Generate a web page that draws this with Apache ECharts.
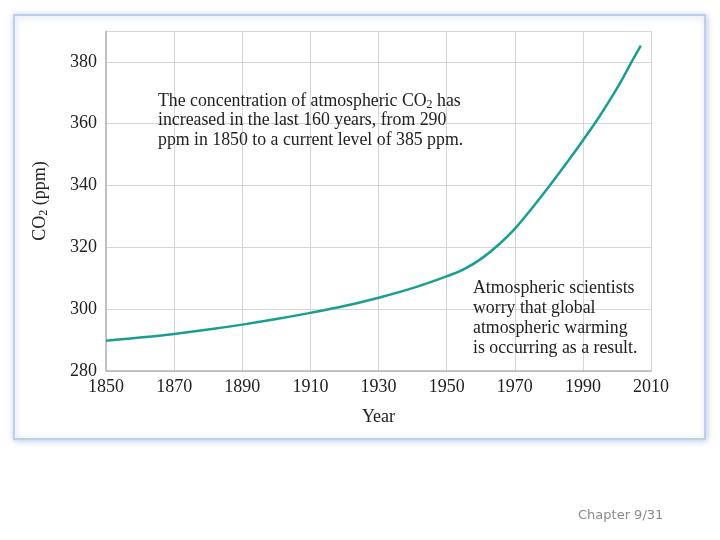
<!DOCTYPE html>
<html>
<head>
<meta charset="utf-8">
<script src="https://cdn.jsdelivr.net/npm/echarts@6/dist/echarts.min.js"></script>
<style>
html,body{margin:0;padding:0;background:#fff;}
#main{width:720px;height:540px;}
</style>
</head>
<body>
<div id="main"></div>
<script>
var years = [1850,1860,1870,1880,1890,1900,1910,1920,1930,1940,1950,1955,1960,1965,1970,1975,1980,1985,1990,1995,2000,2005,2007];
var co2   = [289.8,290.8,292.0,293.4,295.0,296.8,298.8,301.0,303.7,306.8,310.6,312.9,316.2,320.6,326.0,332.6,339.6,347.0,354.6,362.6,371.4,381.4,385.3];
var yTicks = [280,300,320,340,360,380];
var xTicks = [1850,1870,1890,1910,1930,1950,1970,1990,2010];
var note1 = ['The concentration of atmospheric CO{s|2} has','increased in the last 160 years, from 290','ppm in 1850 to a current level of 385 ppm.'];
var note2 = ['Atmospheric scientists','worry that global','atmospheric warming','is occurring as a result.'];
var yName = 'CO{s|2} (ppm)';
var xName = 'Year';
var footer = 'Chapter 9/31';

var serif = '"Liberation Serif", "DejaVu Serif", serif';
var chart = echarts.init(document.getElementById('main'), null, {renderer:'canvas'});
var data = years.map(function(y,i){return [y, co2[i]];});
chart.setOption({
  backgroundColor:'#fff',
  animation:false,
  grid:{left:106,right:69,top:31,bottom:169},
  xAxis:{
    type:'value', min:1850, max:2010, interval:20,
    axisLine:{show:true,lineStyle:{color:'#b4b4b4',width:1.5}},
    axisTick:{show:false},
    splitLine:{show:true,lineStyle:{color:'#d6d6d6',width:1}},
    axisLabel:{color:'#222',fontFamily:serif,fontSize:18,margin:7,
      formatter:function(v){return xTicks.indexOf(v)>=0?String(v):'';}},
    name:xName, nameLocation:'middle', nameGap:37,
    nameTextStyle:{color:'#222',fontFamily:serif,fontSize:18}
  },
  yAxis:{
    type:'value', min:280, max:390, interval:20,
    axisLine:{show:true,lineStyle:{color:'#b4b4b4',width:1.5}},
    axisTick:{show:false},
    splitLine:{show:true,lineStyle:{color:'#d6d6d6',width:1}},
    axisLabel:{color:'#222',fontFamily:serif,fontSize:18,margin:9,
      formatter:function(v){return yTicks.indexOf(v)>=0?String(v):'';}},
    name:yName, nameLocation:'middle', nameGap:56, nameRotate:90,
    nameTextStyle:{color:'#222',fontFamily:serif,fontSize:18,
      rich:{s:{fontFamily:serif,fontSize:12,verticalAlign:'bottom',padding:[8,0,0,0],color:'#222'}}}
  },
  series:[{
    type:'line', data:data, smooth:0.4, symbol:'none',
    lineStyle:{color:'#1b9e92',width:2.5}
  }],
  graphic:[
    {type:'rect', z:-10, silent:true,
     shape:{x:14,y:15,width:691,height:424},
     style:{fill:'#fff',stroke:'#bcd0ea',lineWidth:2,
       shadowBlur:6,shadowColor:'rgba(120,150,200,0.45)',shadowOffsetX:1,shadowOffsetY:1}},
    {type:'text', left:158, top:91, z:100,
     style:{text:note1.join('\n'),fill:'#222',font:'17.8px '+serif,lineHeight:19.7,
       rich:{s:{fontFamily:serif,fontSize:12,verticalAlign:'bottom',padding:[9,0,0,0],fill:'#222'}}}},
    {type:'text', left:473, top:278, z:100,
     style:{text:note2.join('\n'),fill:'#222',font:'17.8px '+serif,lineHeight:20}},
    {type:'text', left:578, top:509,
     style:{text:footer,fill:'#8a8a8a',font:'13px "DejaVu Sans", sans-serif'}}
  ]
});
</script>
</body>
</html>
